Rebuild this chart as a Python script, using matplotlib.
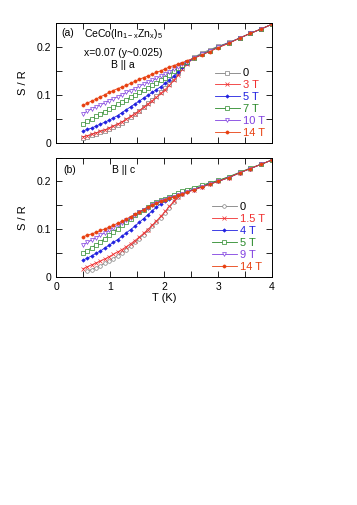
import matplotlib
matplotlib.use('Agg')
import matplotlib.pyplot as plt
from matplotlib.ticker import MultipleLocator, FuncFormatter

plt.rcParams['font.family'] = ['Liberation Sans', 'DejaVu Sans']
plt.rcParams['mathtext.fontset'] = 'custom'
plt.rcParams['mathtext.rm'] = 'Liberation Sans'
plt.rcParams['mathtext.it'] = 'Liberation Sans'

# temperature grid (K)
T = [0.50, 0.58, 0.66, 0.74, 0.82, 0.90, 0.98, 1.06, 1.14, 1.22, 1.30, 1.38,
     1.46, 1.54, 1.62, 1.70, 1.78, 1.86, 1.94, 2.02, 2.10, 2.18, 2.26, 2.34,
     2.42, 2.55, 2.70, 2.85, 3.00, 3.20, 3.40, 3.60, 3.80, 4.00]

# panel (a): B || a
a_0T = [0.011, 0.013, 0.016, 0.019, 0.022, 0.025, 0.029, 0.033, 0.037, 0.042, 0.047, 0.053,
        0.060, 0.067, 0.074, 0.082, 0.090, 0.097, 0.105, 0.114, 0.123, 0.133, 0.145, 0.156,
        0.166, 0.178, 0.187, 0.194, 0.201, 0.209, 0.218, 0.228, 0.237, 0.247]
a_3T = [0.013, 0.015, 0.018, 0.021, 0.024, 0.027, 0.031, 0.035, 0.039, 0.044, 0.049, 0.055,
        0.061, 0.067, 0.074, 0.081, 0.088, 0.095, 0.103, 0.111, 0.120, 0.130, 0.141, 0.153,
        0.164, 0.176, 0.184, 0.191, 0.199, 0.208, 0.218, 0.228, 0.237, 0.247]
a_5T = [0.025, 0.028, 0.031, 0.035, 0.039, 0.043, 0.047, 0.052, 0.057, 0.063, 0.069, 0.075,
        0.081, 0.087, 0.093, 0.099, 0.105, 0.111, 0.117, 0.124, 0.131, 0.139, 0.148, 0.157,
        0.166, 0.176, 0.184, 0.191, 0.199, 0.208, 0.218, 0.228, 0.237, 0.247]
a_7T = [0.039, 0.045, 0.050, 0.055, 0.060, 0.065, 0.070, 0.075, 0.080, 0.085, 0.090, 0.095,
        0.100, 0.105, 0.110, 0.115, 0.120, 0.125, 0.130, 0.136, 0.142, 0.149, 0.156, 0.162,
        0.168, 0.177, 0.185, 0.192, 0.200, 0.208, 0.218, 0.228, 0.237, 0.247]
a_10T = [0.061, 0.066, 0.071, 0.075, 0.079, 0.083, 0.088, 0.092, 0.096, 0.100, 0.105, 0.109,
         0.113, 0.118, 0.122, 0.126, 0.130, 0.134, 0.139, 0.143, 0.148, 0.153, 0.158, 0.164,
         0.169, 0.177, 0.184, 0.191, 0.199, 0.208, 0.218, 0.228, 0.237, 0.247]
a_14T = [0.078, 0.083, 0.087, 0.091, 0.096, 0.100, 0.105, 0.109, 0.113, 0.116, 0.120, 0.124,
         0.128, 0.132, 0.136, 0.139, 0.143, 0.147, 0.150, 0.154, 0.158, 0.161, 0.164, 0.167,
         0.171, 0.176, 0.183, 0.190, 0.198, 0.207, 0.218, 0.228, 0.237, 0.247]

# panel (b): B || c
b_0T = [0.012, 0.015, 0.019, 0.023, 0.028, 0.033, 0.038, 0.044, 0.050, 0.057, 0.064,
        0.072, 0.080, 0.088, 0.097, 0.106, 0.115, 0.124, 0.134, 0.145, 0.157, 0.167, 0.174,
        0.179, 0.184, 0.190, 0.196, 0.201, 0.209, 0.218, 0.227, 0.236, 0.245]
b_1p5T = [0.017, 0.021, 0.025, 0.029, 0.033, 0.037, 0.042, 0.047, 0.052, 0.057, 0.063, 0.069,
          0.076, 0.083, 0.091, 0.099, 0.108, 0.117, 0.127, 0.137, 0.148, 0.158, 0.167, 0.174,
          0.179, 0.183, 0.189, 0.195, 0.200, 0.208, 0.218, 0.227, 0.236, 0.245]
b_4T = [0.035, 0.039, 0.044, 0.049, 0.054, 0.060, 0.066, 0.072, 0.078, 0.085, 0.092, 0.099,
        0.106, 0.114, 0.122, 0.130, 0.138, 0.146, 0.153, 0.159, 0.164, 0.169, 0.173, 0.176,
        0.179, 0.183, 0.189, 0.195, 0.200, 0.208, 0.218, 0.227, 0.236, 0.245]
b_5T = [0.050, 0.055, 0.061, 0.067, 0.073, 0.080, 0.087, 0.094, 0.101, 0.108, 0.115, 0.122,
        0.129, 0.135, 0.141, 0.147, 0.152, 0.156, 0.160, 0.164, 0.168, 0.172, 0.176, 0.179,
        0.183, 0.187, 0.192, 0.197, 0.202, 0.210, 0.219, 0.228, 0.236, 0.245]
b_9T = [0.067, 0.072, 0.077, 0.082, 0.087, 0.092, 0.097, 0.103, 0.108, 0.113, 0.118, 0.124,
        0.130, 0.135, 0.140, 0.145, 0.150, 0.154, 0.158, 0.162, 0.165, 0.168, 0.171, 0.174,
        0.177, 0.182, 0.188, 0.194, 0.200, 0.208, 0.218, 0.227, 0.236, 0.245]
b_14T = [0.084, 0.087, 0.090, 0.093, 0.097, 0.100, 0.104, 0.108, 0.112, 0.116, 0.121, 0.126,
         0.131, 0.136, 0.141, 0.146, 0.150, 0.154, 0.158, 0.162, 0.165, 0.168, 0.171, 0.174,
         0.177, 0.182, 0.188, 0.194, 0.200, 0.208, 0.218, 0.227, 0.236, 0.245]

gray = '#808080'
red = '#f03030'
blue = '#2020e0'
green = '#2a8a2a'
purple = '#8040e0'
orange = '#e84010'

fig = plt.figure(figsize=(3.57, 5.05), dpi=100)
ax1 = fig.add_axes([0.157, 0.717, 0.605, 0.238])
ax2 = fig.add_axes([0.157, 0.452, 0.605, 0.236])

lw = 0.6
# panel a
ax1.plot(T, a_0T, color=gray, marker='s', mfc='white', ms=2.4, mew=0.5, lw=lw, label='0')
ax1.plot(T, a_3T, color=red, marker='x', ms=2.4, mew=0.5, lw=lw, label='3 T')
ax1.plot(T, a_5T, color=blue, marker='D', ms=1.8, mew=0.4, lw=lw, label='5 T')
ax1.plot(T, a_7T, color=green, marker='s', mfc='white', ms=3.0, mew=0.5, lw=lw, label='7 T')
ax1.plot(T, a_10T, color=purple, marker='v', mfc='white', ms=2.8, mew=0.5, lw=lw, label='10 T')
ax1.plot(T, a_14T, color=orange, marker='o', ms=2.3, mew=0.4, lw=lw, label='14 T')

# panel b
ax2.plot(T[1:], b_0T, color=gray, marker='o', mfc='white', ms=2.6, mew=0.5, lw=lw, label='0')
ax2.plot(T, b_1p5T, color=red, marker='x', ms=2.4, mew=0.5, lw=lw, label='1.5 T')
ax2.plot(T, b_4T, color=blue, marker='D', ms=1.8, mew=0.4, lw=lw, label='4 T')
ax2.plot(T, b_5T, color=green, marker='s', mfc='white', ms=3.0, mew=0.5, lw=lw, label='5 T')
ax2.plot(T, b_9T, color=purple, marker='v', mfc='white', ms=2.8, mew=0.5, lw=lw, label='9 T')
ax2.plot(T, b_14T, color=orange, marker='o', ms=2.3, mew=0.4, lw=lw, label='14 T')

text_colors = ['black', red, blue, green, purple, orange]
for ax in (ax1, ax2):
    ax.set_xlim(0, 4)
    ax.set_ylim(0, 0.25)
    ax.xaxis.set_major_locator(MultipleLocator(1))
    ax.xaxis.set_minor_locator(MultipleLocator(0.5))
    ax.yaxis.set_major_locator(MultipleLocator(0.1))
    ax.yaxis.set_minor_locator(MultipleLocator(0.05))
    ax.yaxis.set_major_formatter(FuncFormatter(lambda v, p: '0' if abs(v) < 1e-9 else f'{v:.1f}'))
    ax.tick_params(which='both', direction='in', top=True, right=True,
                   labelsize=7.5, width=0.6, length=4)
    for s in ax.spines.values():
        s.set_linewidth(0.7)
    ax.set_ylabel('S / R', fontsize=8, labelpad=6)
    leg = ax.legend(loc='lower right', bbox_to_anchor=(0.99, 0.0), frameon=False,
                    fontsize=8, handlelength=2.2, handletextpad=0.3,
                    labelspacing=0.17, borderaxespad=0.05)
    for t, c in zip(leg.get_texts(), text_colors):
        t.set_color(c)

ax1.set_xticklabels([])
ax2.set_xlabel('T (K)', fontsize=8, labelpad=1)

ax1.text(0.1, 0.228, '(a)', fontsize=7.5, va='center')
ax1.text(1.24, 0.226, r'CeCo(In$_{\mathrm{1-x}}$Zn$_{\mathrm{x}}$)$_{\mathrm{5}}$', fontsize=7.5,
         ha='center', va='center')
ax1.text(1.24, 0.188, 'x=0.07 (y~0.025)', fontsize=7.5, ha='center', va='center')
ax1.text(1.24, 0.162, 'B || a', fontsize=7.5, ha='center', va='center')

ax2.text(0.13, 0.224, '(b)', fontsize=7.5, va='center')
ax2.text(1.03, 0.224, 'B || c', fontsize=7.5, va='center')

fig.savefig('out.png', dpi=100)
